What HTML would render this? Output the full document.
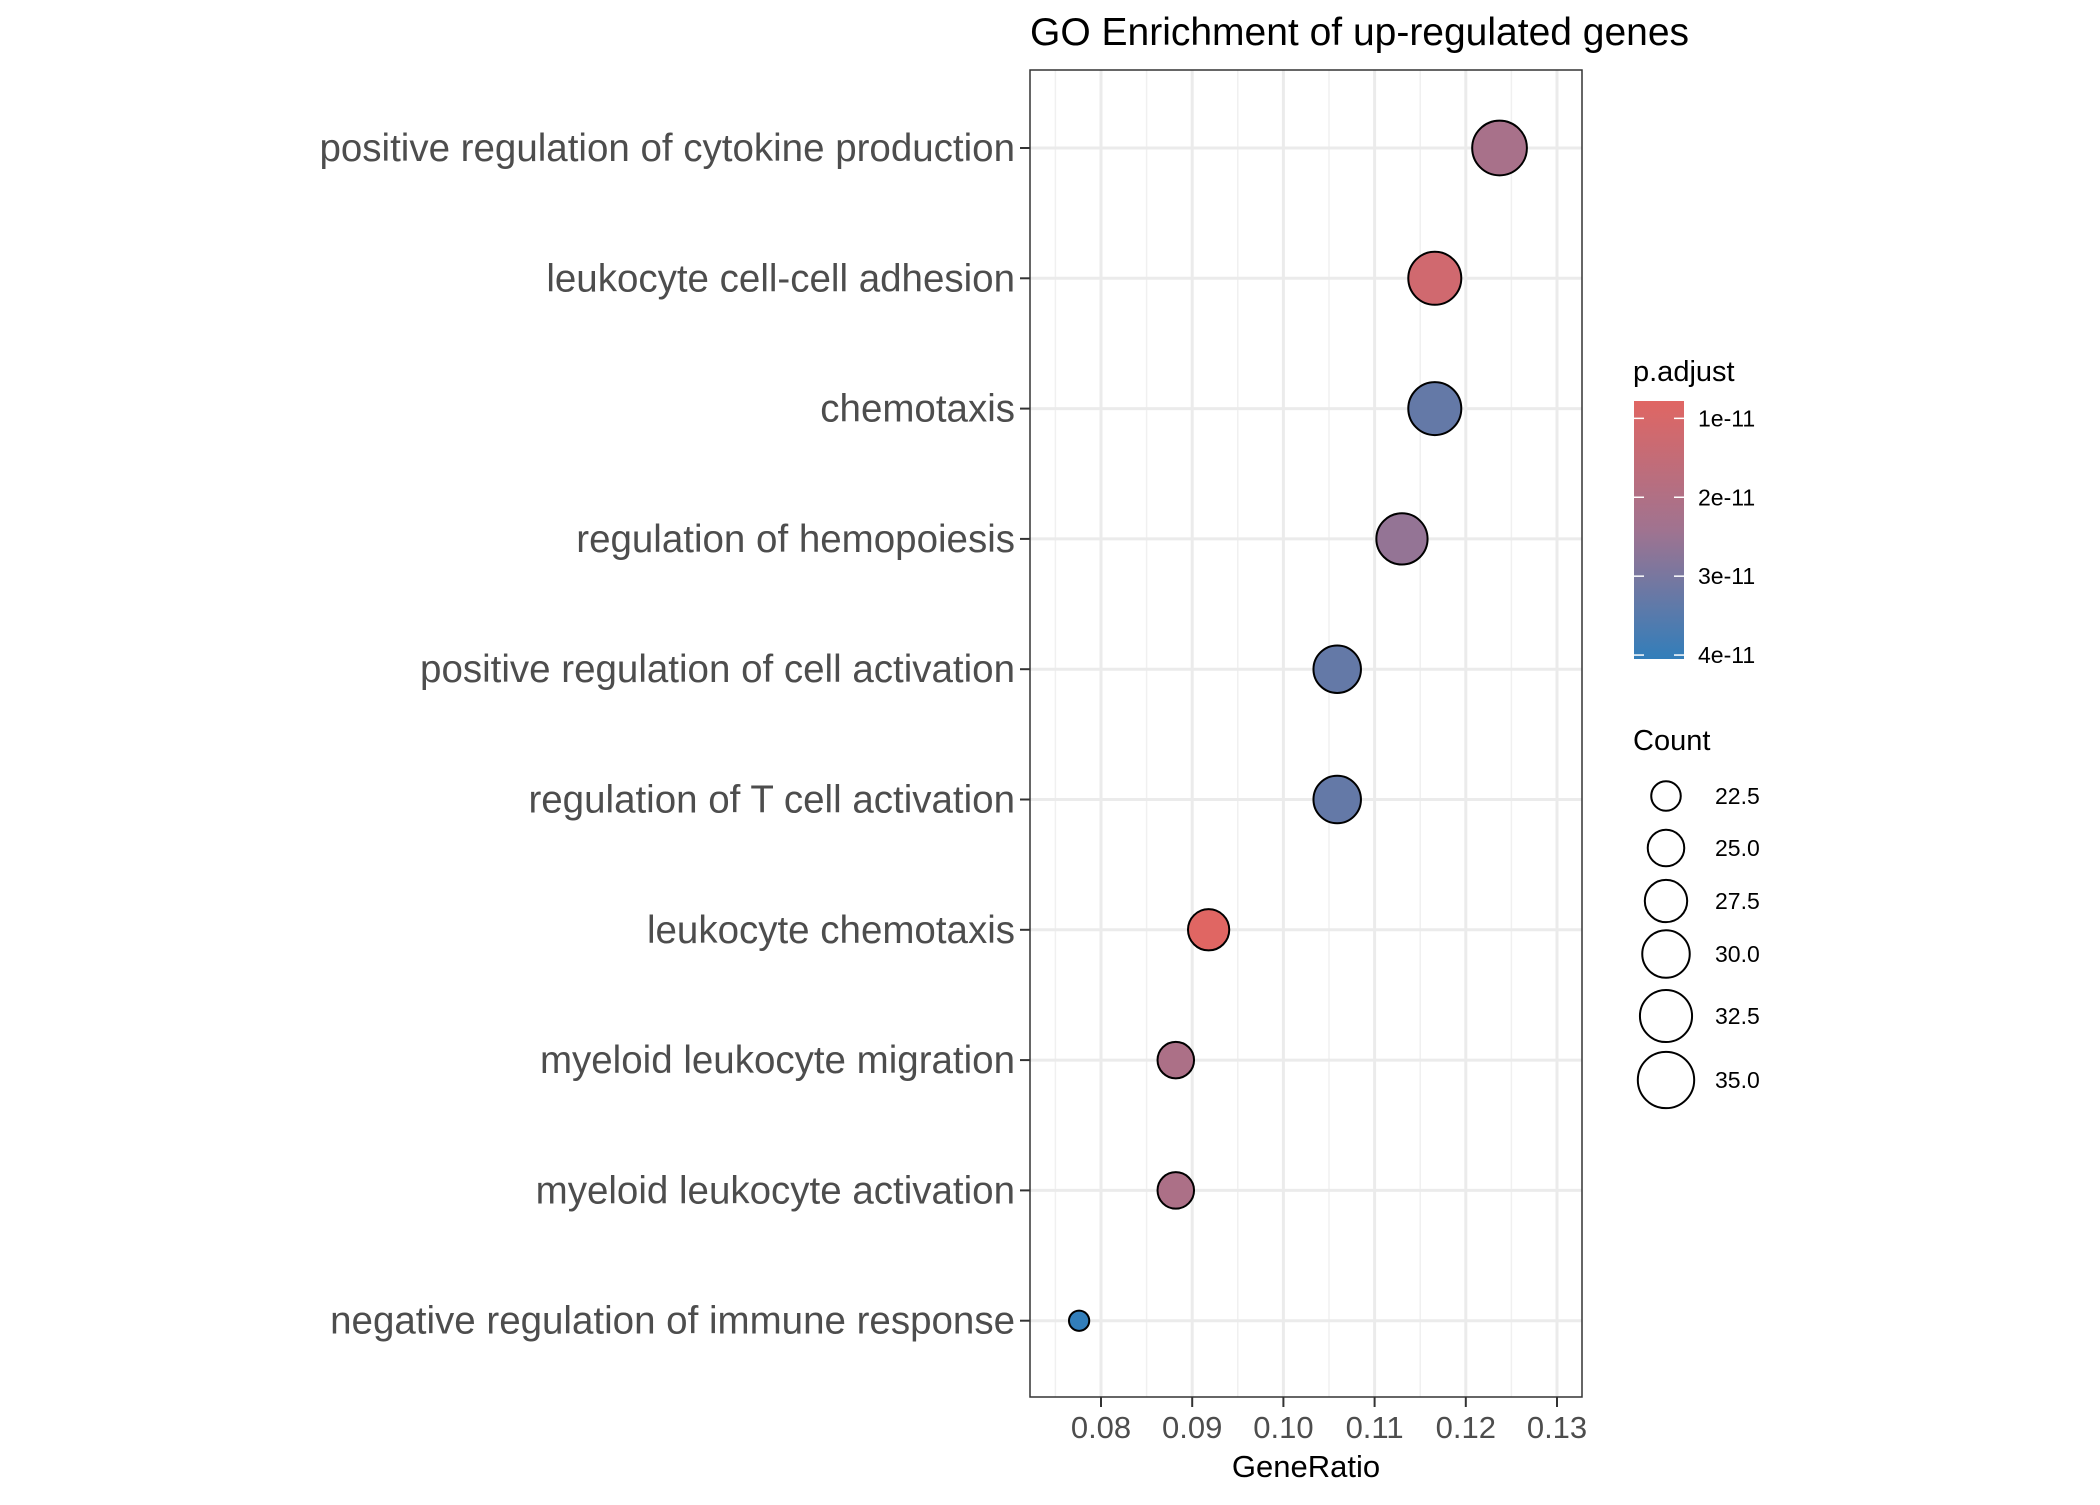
<!DOCTYPE html>
<html><head><meta charset="utf-8"><style>
html,body{margin:0;padding:0;background:#fff}
svg text{font-family:"Liberation Sans",sans-serif}
</style></head><body>
<svg id="chart" width="2100" height="1500" viewBox="0 0 2100 1500" xmlns="http://www.w3.org/2000/svg">
<rect width="2100" height="1500" fill="#fff"/>
<text x="1030" y="45" font-size="39" fill="#000">GO Enrichment of up-regulated genes</text>
<g id="grid"></g>
<g id="points"></g>
<rect x="1030" y="70" width="552" height="1327" fill="none" stroke="#333" stroke-width="1.5"/>
<g id="axes"></g>
<text x="1306" y="1477" font-size="31" text-anchor="middle" fill="#000">GeneRatio</text>
<defs><linearGradient id="pg" x1="0" y1="0" x2="0" y2="1">
<stop offset="0" stop-color="#e06663"/><stop offset="0.5" stop-color="#a07390"/><stop offset="1" stop-color="#327eba"/></linearGradient></defs>
<text x="1633" y="381" font-size="29" fill="#000">p.adjust</text>
<rect x="1634" y="401" width="50" height="258" fill="url(#pg)"/>
<g id="legend"></g>
<text x="1633" y="750" font-size="29" fill="#000">Count</text>
</svg>
<script>
const categories=["positive regulation of cytokine production","leukocyte cell-cell adhesion","chemotaxis","regulation of hemopoiesis","positive regulation of cell activation","regulation of T cell activation","leukocyte chemotaxis","myeloid leukocyte migration","myeloid leukocyte activation","negative regulation of immune response"];
const geneRatio=[0.1237,0.1166,0.1166,0.1130,0.1059,0.1059,0.0918,0.0882,0.0882,0.0776];
const counts=[34,33,33,32,30,30,27,25,25,20];
const padj=[2.2e-11,1.2e-11,3.3e-11,2.6e-11,3.3e-11,3.3e-11,0.78e-11,2.1e-11,2.1e-11,4.05e-11];
const xTicks=[0.08,0.09,0.10,0.11,0.12,0.13];
const xTickLabels=["0.08","0.09","0.10","0.11","0.12","0.13"];
const colorTicks=[1e-11,2e-11,3e-11,4e-11];
const colorTickLabels=["1e-11","2e-11","3e-11","4e-11"];
const sizeBreaks=[22.5,25,27.5,30,32.5,35];
const sizeLabels=["22.5","25.0","27.5","30.0","32.5","35.0"];

const NS="http://www.w3.org/2000/svg";
function x(v){return 1101+(v-0.08)*9120;}
function y(i){return 148+i*130.3;}
function r(c){return 1.342*Math.sqrt(Math.max(121+25.6*(c-22.5),20));}
const pMin=0.78e-11,pMax=4.05e-11;
function py(p){return 401+(p-pMin)/(pMax-pMin)*258;}
function hex(h){return [1,3,5].map(i=>parseInt(h.substr(i,2),16));}
const stops=[[0,hex("#e06663")],[0.5,hex("#a07390")],[1,hex("#327eba")]];
function col(p){let t=(p-pMin)/(pMax-pMin);t=Math.max(0,Math.min(1,t));
 let a=t<=0.5?stops[0]:stops[1],b=t<=0.5?stops[1]:stops[2];let u=(t-a[0])/(b[0]-a[0]);
 return "rgb("+a[1].map((v,k)=>Math.round(v+(b[1][k]-v)*u)).join(",")+")";}
function mk(tag,at,parent,txt){const e=document.createElementNS(NS,tag);for(const k in at)e.setAttribute(k,at[k]);if(txt!=null)e.textContent=txt;parent.appendChild(e);return e;}
const grid=document.getElementById('grid'),pts=document.getElementById('points'),axes=document.getElementById('axes'),leg=document.getElementById('legend');
for(let v=0.075;v<0.133;v+=0.01){const g=mk('line',{x1:x(v),x2:x(v),y1:70,y2:1397,stroke:'#f0f0f0','stroke-width':1.5},grid);

}
xTicks.forEach((v,i)=>{const g=mk('line',{x1:x(v),x2:x(v),y1:70,y2:1397,stroke:'#ebebeb','stroke-width':3},grid);


const t=mk('line',{x1:x(v),x2:x(v),y1:1397,y2:1407,stroke:'#333','stroke-width':2},axes);


const l=mk('text',{x:x(v),y:1438,'font-size':31,'text-anchor':'middle',fill:'#4d4d4d'},axes,xTickLabels[i]);

});
categories.forEach((c,i)=>{const g=mk('line',{x1:1030,x2:1582,y1:y(i),y2:y(i),stroke:'#ebebeb','stroke-width':3},grid);


const t=mk('line',{x1:1020,x2:1030,y1:y(i),y2:y(i),stroke:'#333','stroke-width':2},axes);


const l=mk('text',{x:1015,y:y(i)+13,'font-size':38.5,'text-anchor':'end',fill:'#4d4d4d'},axes,c);


const p=mk('circle',{cx:x(geneRatio[i]),cy:y(i),r:r(counts[i]),fill:col(padj[i]),stroke:'#000','stroke-width':2},pts);

});
colorTicks.forEach((p,i)=>{const yy=py(p);
const t1=mk('line',{x1:1634,x2:1644,y1:yy,y2:yy,stroke:'#fff','stroke-width':1.5},leg);


const t2=mk('line',{x1:1674,x2:1684,y1:yy,y2:yy,stroke:'#fff','stroke-width':1.5},leg);


const l=mk('text',{x:1698,y:yy+8,'font-size':23,fill:'#000'},leg,colorTickLabels[i]);

});
const sizeY=[796,848,901,954,1016,1080];
sizeBreaks.forEach((s,i)=>{const c=mk('circle',{cx:1666,cy:sizeY[i],r:r(s),fill:'none',stroke:'#000','stroke-width':2},leg);


const l=mk('text',{x:1715,y:sizeY[i]+8,'font-size':23,fill:'#000'},leg,sizeLabels[i]);

});
</script>
</body></html>
